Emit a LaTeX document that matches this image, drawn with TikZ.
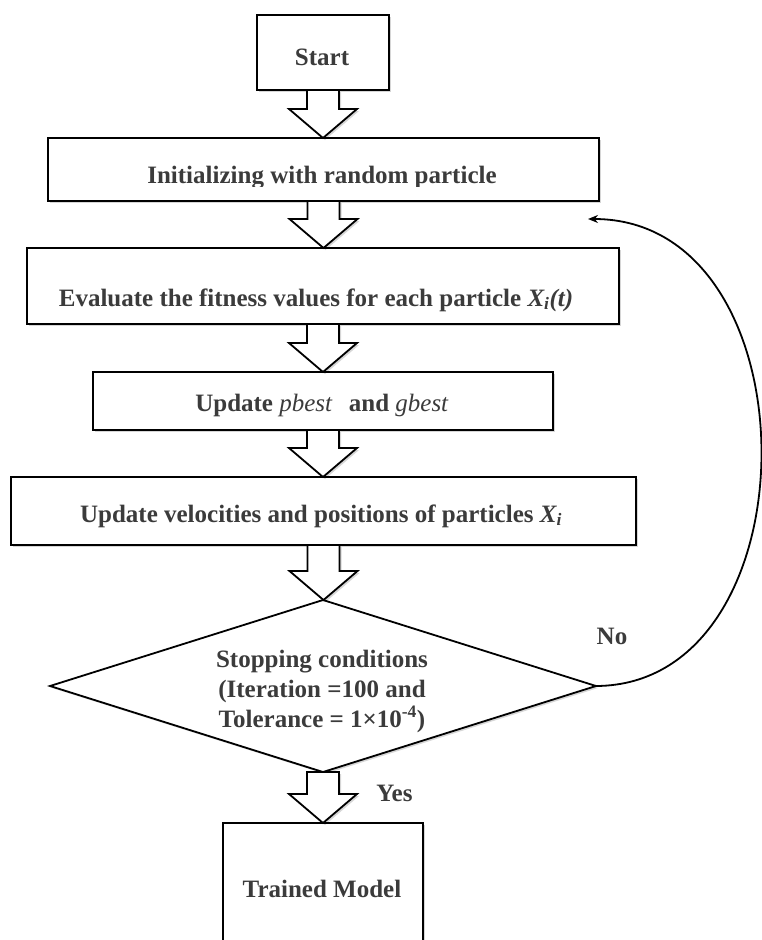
\documentclass[tikz,border=0pt]{standalone}
\usepackage{fontspec}
\setmainfont{Liberation Serif}
\usetikzlibrary{shapes.geometric,arrows.meta,calc,shadows}

\definecolor{inkgray}{HTML}{3B3B3B}

\tikzset{
  softshadow/.style={drop shadow={shadow xshift=2pt, shadow yshift=-2pt, opacity=0.16, fill=black}},
  box/.style={rectangle, draw=black, line width=2pt, fill=white, outer sep=0pt, inner sep=0pt, softshadow},
  decision/.style={diamond, draw=black, line width=1.8pt, fill=white, outer sep=0pt, inner sep=0pt, softshadow},
  txt/.style={text=inkgray, font=\fontsize{25}{30}\selectfont\bfseries, inner sep=0pt, outer sep=0pt},
  barrow/.style={draw=black, line width=1.8pt, fill=white, line join=miter, softshadow},
  loopline/.style={draw=black, line width=1.8pt, -{Stealth[length=10pt,width=8pt]}},
}

% hollow block arrow from the bottom of one node to the top of the next
\newcommand\blockarrow[2]{%
  \draw[barrow] let \p1=(#1.south), \p2=(#2.north) in
    (\x1-16pt,\y1) -- (\x1+16pt,\y1) -- (\x1+16pt,\y2+29pt) -- (\x1+34pt,\y2+29pt)
    -- (\x1,\y2) -- (\x1-34pt,\y2+29pt) -- (\x1-16pt,\y2+29pt) -- cycle;}

\begin{document}
\begin{tikzpicture}[x=1pt,y=-1pt]
\useasboundingbox (0,0) rectangle (762,940);
\clip (0,0) rectangle (762,940);

% process boxes
\node[box, minimum width=132pt, minimum height=75pt] (start) at (323,52.5) {};
\node[box, minimum width=551pt, minimum height=63pt] (init) at (323.5,169.5) {};
\node[box, minimum width=592pt, minimum height=76pt] (eval) at (323,286) {};
\node[box, minimum width=460pt, minimum height=58pt] (upd) at (323,401) {};
\node[box, minimum width=625pt, minimum height=68pt] (vel) at (323.5,511) {};
\node[decision, minimum width=546pt, minimum height=172pt] (dia) at (323,686) {};
\node[box, minimum width=200pt, minimum height=138pt] (trained) at (323,892) {};

% flow between the steps
\blockarrow{start}{init}
\blockarrow{init}{eval}
\blockarrow{eval}{upd}
\blockarrow{upd}{vel}
\blockarrow{vel}{dia}
\blockarrow{dia}{trained}

% texts
\node[txt, anchor=base] (tStart) at (322,65) {Start};
\begin{scope}
  \clip (48,138) rectangle (599,186);
  \node[txt, anchor=base] (tInit) at (322,183) {Initializing with random particle};
\end{scope}
\node[txt, anchor=base] (tEval) at (316,306)
  {Evaluate the fitness values for each particle \textit{X\textsubscript{i}(t)}};
\node[txt, anchor=base] (tUpd) at (322,411)
  {Update \textit{\mdseries pbest}\hspace{0.4em} and \textit{\mdseries gbest}};
\node[txt, anchor=base] (tVel) at (321,522)
  {Update velocities and positions of particles \textit{X\textsubscript{i}}};
\node[txt, align=center] (tDia) at (322,691)
  {Stopping conditions\\(Iteration =100 and\\Tolerance = 1×10\textsuperscript{-4})};
\node[txt, anchor=base] (tNo) at (612,644) {No};
\node[txt, anchor=base] (tYes) at (394.5,801) {Yes};
\node[txt, anchor=base] (tTrained) at (322,897) {Trained Model};

% loop back when the stopping conditions are not met
\coordinate (back) at (588,219);
\draw[loopline] (dia.east) .. controls (817,685) and (817,219) .. (back);
\end{tikzpicture}
\end{document}
